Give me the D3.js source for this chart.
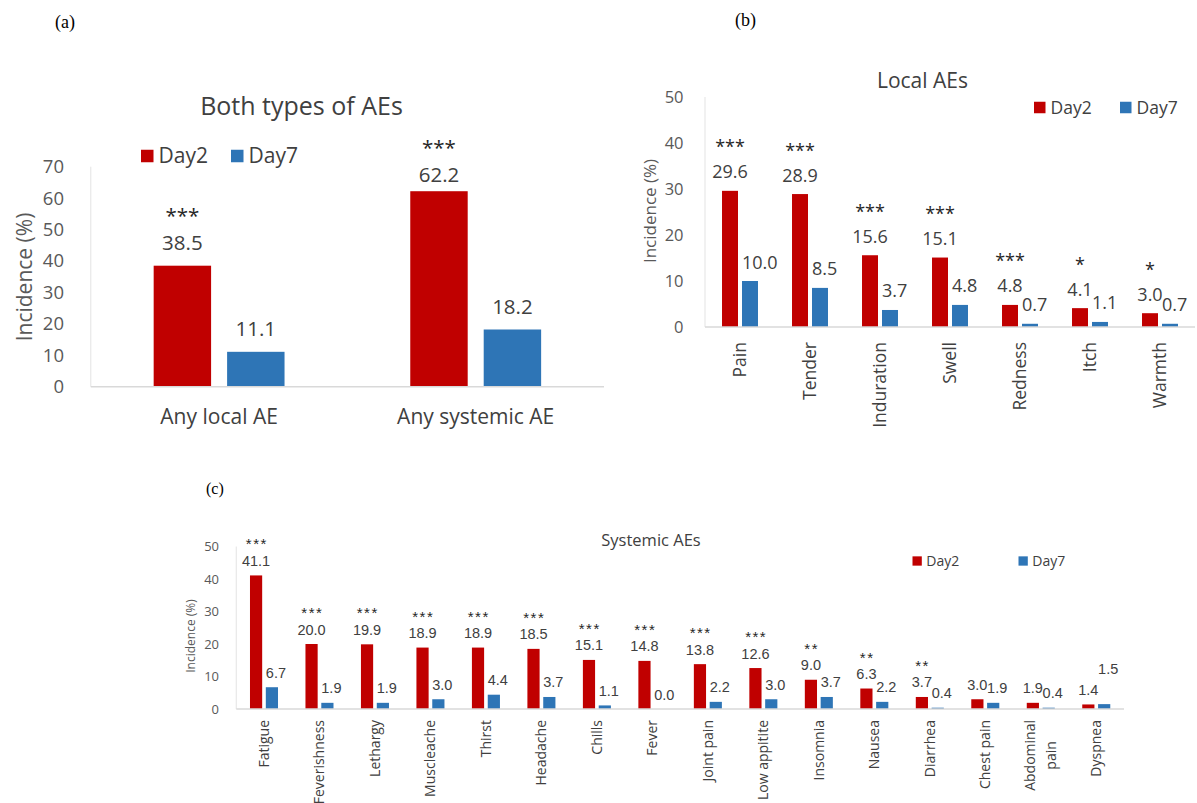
<!DOCTYPE html>
<html><head><meta charset="utf-8">
<script src="https://cdn.jsdelivr.net/npm/d3@7"></script>
<style>body{margin:0;background:#fff} svg{display:block}</style>
</head><body>
<svg id="fig" width="1197" height="803"></svg>
<script>
// ---- data ----
const series = ["Day2", "Day7"];
const seriesColors = ["#C00000", "#2E75B6"];

const bothCategories = ["Any local AE", "Any systemic AE"];
const bothDay2 = [38.5, 62.2];
const bothDay7 = [11.1, 18.2];
const bothSig = ["***", "***"];
const bothTicks = [0, 10, 20, 30, 40, 50, 60, 70];

const localCategories = ["Pain", "Tender", "Induration", "Swell", "Redness", "Itch", "Warmth"];
const localDay2 = [29.6, 28.9, 15.6, 15.1, 4.8, 4.1, 3.0];
const localDay7 = [10.0, 8.5, 3.7, 4.8, 0.7, 1.1, 0.7];
const localSig = ["***", "***", "***", "***", "***", "*", "*"];
const localTicks = [0, 10, 20, 30, 40, 50];

const systemicCategories = ["Fatigue", "Feverishness", "Lethargy", "Muscleache", "Thirst", "Headache",
  "Chills", "Fever", "Joint pain", "Low appitite", "Insomnia", "Nausea", "Diarrhea", "Chest pain",
  "Abdominal\npain", "Dyspnea"];
const systemicDay2 = [41.1, 20.0, 19.9, 18.9, 18.9, 18.5, 15.1, 14.8, 13.8, 12.6, 9.0, 6.3, 3.7, 3.0, 1.9, 1.4];
const systemicDay7 = [6.7, 1.9, 1.9, 3.0, 4.4, 3.7, 1.1, 0.0, 2.2, 3.0, 3.7, 2.2, 0.4, 1.9, 0.4, 1.5];
const systemicSig = ["***", "***", "***", "***", "***", "***", "***", "***", "***", "***", "**", "**", "**", "", "", ""];
const systemicTicks = [0, 10, 20, 30, 40, 50];

// ---- drawing ----
const FONT = "'Open Sans', 'Noto Sans', sans-serif";
const FONT_COMPACT = "'Liberation Sans', Arial, sans-serif";
const svg = d3.select("#fig");

function drawPanel(p) {
  const g = svg.append("g");
  const x0 = d3.scaleBand().domain(p.cats).range([p.left, p.right])
    .paddingInner(1 - p.groupFrac).paddingOuter((1 - p.groupFrac) / 2);
  const x1 = d3.scaleBand().domain(series).range([0, x0.bandwidth()]).paddingInner(p.innerPad);
  const y = d3.scaleLinear().domain([0, p.max]).range([p.base, p.top]);
  const labelFont = p.labelFont || FONT;

  // left frame line
  g.append("line").attr("x1", p.left).attr("x2", p.left).attr("y1", y(p.max)).attr("y2", y(0))
    .attr("stroke", "#e3e3e3").attr("stroke-width", 1);
  // y tick labels
  g.selectAll("text.tick").data(p.ticks).join("text")
    .attr("x", p.tickX).attr("y", d => y(d)).attr("dy", "0.35em")
    .attr("text-anchor", "end").attr("font-size", p.tickFont).attr("fill", "#595959")
    .attr("font-family", FONT).text(d => d);

  const rows = p.cats.map((c, i) => ({ cat: c, i, vals: [p.day2[i], p.day7[i]] }));
  const grp = g.selectAll("g.grp").data(rows).join("g").attr("transform", d => `translate(${x0(d.cat)},0)`);
  grp.selectAll("rect").data(d => series.map((s, k) => ({ s, k, v: d.vals[k] }))).join("rect")
    .attr("x", d => x1(d.s)).attr("width", x1.bandwidth())
    .attr("y", d => y(d.v)).attr("height", d => y(0) - y(d.v))
    .attr("fill", d => seriesColors[d.k]);

  // category axis line
  g.append("line").attr("x1", p.left).attr("x2", p.right).attr("y1", y(0)).attr("y2", y(0))
    .attr("stroke", "#d9d9d9").attr("stroke-width", 1.5);

  // value labels, with the significance stars above the Day2 values
  rows.forEach(r => {
    series.forEach((s, k) => {
      const v = r.vals[k];
      const bx = x0(r.cat) + x1(s);
      const nudge = (p.nudge && p.nudge[r.cat] && p.nudge[r.cat][k]) || [0, 0];
      const anchorStart = k === 1 && p.day7Start;
      const lx = anchorStart ? bx : bx + x1.bandwidth() / 2;
      const ly = y(v) - p.valueGap + nudge[0];
      if (k === 0 && p.sig[r.i]) {
        const ls = p.sigSpacing || 0;
        g.append("text").attr("x", bx + x1.bandwidth() / 2 + ls / 2).attr("y", ly - p.sigLine + nudge[1])
          .attr("text-anchor", "middle").attr("font-size", p.sigFont).attr("font-family", labelFont)
          .attr("letter-spacing", ls).attr("fill", "#262626").text(p.sig[r.i]);
      }
      g.append("text").attr("x", lx).attr("y", ly)
        .attr("text-anchor", anchorStart ? "start" : "middle").attr("font-size", p.valueFont)
        .attr("font-family", labelFont).attr("fill", "#404040")
        .text(v.toFixed(1));
    });
  });

  // category labels
  rows.forEach(r => {
    const cx = x0(r.cat) + x0.bandwidth() / 2;
    const lines = r.cat.split("\n");
    if (p.flatCats) {
      g.append("text").attr("x", cx).attr("y", p.catY).attr("text-anchor", "middle")
        .attr("font-size", p.catFont).attr("fill", "#404040").attr("font-family", FONT).text(r.cat);
    } else {
      const t = g.append("text").attr("transform", `translate(${cx},${p.catTop}) rotate(-90)`)
        .attr("font-size", p.catFont).attr("fill", "#404040").attr("font-family", FONT);
      if (lines.length === 1) {
        t.attr("text-anchor", "end").attr("dy", "0.35em").text(r.cat);
      } else {
        const spans = lines.map((ln, j) => t.append("tspan").attr("text-anchor", "middle")
          .attr("y", (j - (lines.length - 1) / 2) * p.catLine).attr("dy", "0.35em").text(ln));
        const maxLen = d3.max(spans, s => s.node().getComputedTextLength());
        spans.forEach(s => s.attr("x", -maxLen / 2));
      }
    }
  });

  // titles
  g.append("text").attr("x", p.titleX).attr("y", p.titleY).attr("dy", "0.35em").attr("text-anchor", "middle")
    .attr("font-size", p.titleFont).attr("fill", "#404040").attr("font-family", FONT).text(p.title);
  g.append("text").attr("transform", `translate(${p.yTitleX},${p.yTitleY}) rotate(-90)`)
    .attr("dy", "0.35em").attr("text-anchor", "middle")
    .attr("font-size", p.yTitleFont).attr("fill", "#595959").attr("font-family", FONT).text("Incidence (%)");

  // legend
  series.forEach((s, k) => {
    g.append("rect").attr("x", p.legX[k]).attr("y", p.legY - p.legSize / 2)
      .attr("width", p.legSize).attr("height", p.legSize).attr("fill", seriesColors[k]);
    g.append("text").attr("x", p.legX[k] + p.legSize + p.legGap).attr("y", p.legY).attr("dy", "0.35em")
      .attr("font-size", p.legFont).attr("fill", "#404040").attr("font-family", FONT).text(s);
  });

  // panel letter
  g.append("text").attr("x", p.tagX).attr("y", p.tagY).attr("dy", "0.35em")
    .attr("font-family", "'Liberation Serif', 'Times New Roman', serif").attr("font-size", p.tagFont)
    .attr("fill", "#000").text(p.tag);
}

drawPanel({
  cats: bothCategories, day2: bothDay2, day7: bothDay7, sig: bothSig, ticks: bothTicks, max: 70,
  left: 90.8, right: 604, base: 386.7, top: 166.7, groupFrac: 0.51, innerPad: 0.218,
  tickX: 64, tickFont: 18.5, valueFont: 20.5, sigFont: 20.5, valueGap: 15.5, sigLine: 27.5, day7Start: false,
  nudge: { "Any systemic AE": [[6.5, 0], [0, 0]] },
  flatCats: true, catY: 424, catFont: 21,
  title: "Both types of AEs", titleX: 301.5, titleY: 106, titleFont: 25,
  yTitleX: 25, yTitleY: 277, yTitleFont: 21,
  legX: [141, 231], legY: 156, legSize: 12.5, legGap: 5, legFont: 21,
  tag: "(a)", tagX: 55, tagY: 22, tagFont: 18
});

drawPanel({
  cats: localCategories, day2: localDay2, day7: localDay7, sig: localSig, ticks: localTicks, max: 50,
  left: 705, right: 1195, base: 327, top: 97, groupFrac: 0.514, innerPad: 0.2,
  tickX: 683.5, tickFont: 16.5, valueFont: 18, sigFont: 18, valueGap: 12.5, sigLine: 25, day7Start: true,
  flatCats: false, catTop: 342, catFont: 17.5, catLine: 21,
  title: "Local AEs", titleX: 922.5, titleY: 81, titleFont: 21,
  yTitleX: 650, yTitleY: 211, yTitleFont: 17,
  legX: [1034, 1120], legY: 107.5, legSize: 11.5, legGap: 5, legFont: 17.5,
  tag: "(b)", tagX: 735, tagY: 20, tagFont: 18
});

drawPanel({
  cats: systemicCategories, day2: systemicDay2, day7: systemicDay7, sig: systemicSig, ticks: systemicTicks, max: 50,
  left: 236.25, right: 1124, base: 709, top: 546.5, groupFrac: 0.505, innerPad: 0.23,
  tickX: 219, tickFont: 13, labelFont: FONT_COMPACT, valueFont: 14.5, sigFont: 15, sigSpacing: 1.5,
  valueGap: 9.5, sigLine: 16.5, day7Start: true,
  nudge: { "Dyspnea": [[0, 0], [-21, 0]] },
  flatCats: false, catTop: 720, catFont: 14, catLine: 21,
  title: "Systemic AEs", titleX: 651, titleY: 540.7, titleFont: 16.5,
  yTitleX: 191, yTitleY: 636, yTitleFont: 12,
  legX: [912.5, 1018.5], legY: 561, legSize: 9.3, legGap: 4.5, legFont: 14,
  tag: "(c)", tagX: 206, tagY: 488, tagFont: 16
});
</script>
</body></html>
